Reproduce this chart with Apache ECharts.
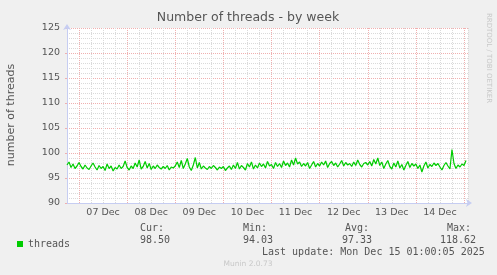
<!DOCTYPE html>
<html>
<head>
<meta charset="utf-8">
<script src="https://cdn.jsdelivr.net/npm/echarts@6/dist/echarts.min.js"></script>
<style>
html,body{margin:0;padding:0;background:#f0f0f0;}
#chart{width:497px;height:275px;}
</style>
</head>
<body>
<div id="chart"></div>
<script>
// ---- data ----
var chartTitle = 'Number of threads - by week';
var yAxisTitle = 'number of threads';
var seriesName = 'threads';
var startHour = -6;           // hours relative to 07 Dec 00:00
var endHour = 194;
var dayLabels = ['07 Dec', '08 Dec', '09 Dec', '10 Dec', '11 Dec', '12 Dec', '13 Dec', '14 Dec'];
var yTicks = [90, 95, 100, 105, 110, 115, 120, 125];
// hourly values from 06 Dec 18:00 to 15 Dec 01:00
var threads = [
  97.6, 98.2, 97.1, 97.8, 96.9, 97.4,
  98.1, 97.3, 96.8, 97.6, 97.0, 96.7, 97.4, 98.0, 97.2, 96.6, 97.5, 96.9, 97.3, 96.5, 97.8, 96.9, 97.4, 96.4, 97.1, 96.8, 97.6, 96.9, 97.3, 98.4,
  97.1, 96.6, 97.4, 96.9, 98.0, 97.2, 98.6, 96.8, 97.3, 98.3, 97.0, 97.9, 96.7, 97.4, 96.9, 97.6, 97.1, 96.8, 97.3, 96.9, 97.5, 96.6, 97.2, 97.0,
  97.4, 98.2, 97.1, 98.5, 96.9, 97.8, 98.9, 97.2, 96.5, 97.6, 99.1, 97.0, 98.1, 96.8, 97.4, 97.0, 96.7, 97.3, 96.9, 97.5, 97.1, 96.6, 97.2, 96.9,
  97.3, 96.5, 97.0, 97.4, 96.7, 97.6, 96.9, 98.1, 96.8, 97.5, 97.1, 96.6, 97.9, 97.2, 98.2, 96.8, 97.6, 97.0, 98.0, 97.3, 97.8, 97.0, 98.3, 97.4,
  97.7, 96.9, 98.1, 97.3, 97.9, 97.1, 98.4, 97.5, 98.0, 97.2, 98.6, 97.6, 99.0, 97.8, 98.2, 97.3, 97.9, 97.4, 98.1, 96.9, 97.6, 98.3, 97.2, 97.9,
  97.4, 98.2, 97.6, 98.4, 97.1, 97.9, 98.3, 97.5, 98.0, 97.2, 97.8, 98.5, 97.4, 98.1, 97.6, 97.9, 97.3, 98.2, 97.5, 98.6, 97.7, 97.2, 97.9, 98.1,
  97.6, 98.3, 97.4, 98.7, 97.8, 99.0, 97.5, 98.2, 96.9, 97.8, 98.5, 97.3, 96.8, 98.0, 97.2, 98.4, 97.0, 97.7, 96.6, 97.5, 98.3, 97.1, 97.9, 97.4,
  97.8, 96.9, 97.6, 96.2, 97.4, 98.2, 97.0, 97.7, 97.3, 98.0, 97.5, 97.9, 97.2, 96.6, 97.5, 98.1, 97.4, 96.8, 100.7, 97.9, 96.9, 97.6, 97.2, 97.8,
  97.5, 98.5
];
var statLabels = ['Cur:', 'Min:', 'Avg:', 'Max:'];
var statValues = ['98.50', '94.03', '97.33', '118.62'];
var lastUpdate = 'Last update: Mon Dec 15 01:00:05 2025';
var footer = 'Munin 2.0.73';
var sideText = 'RRDTOOL / TOBI OETIKER';

// ---- build ----
var seriesData = threads.map(function (v, i) { return [startHour + i, v]; });
var mono = 'DejaVu Sans Mono';
var sans = 'DejaVu Sans';
var txt = '#555';
var axisCol = '#c6cdf2';
var majorCol = '#f0b0b0';
var minorCol = '#dadada';

var statX = [140, 243, 345, 447];
var valX = [140, 243, 342, 440];
var graphics = [
  {type: 'text', x: 248, y: 18, style: {text: chartTitle, fill: txt, font: '12.5px ' + sans, align: 'center', verticalAlign: 'middle'}},
  {type: 'text', x: 11, y: 115, rotation: Math.PI / 2, style: {text: yAxisTitle, fill: txt, font: '11px ' + sans, align: 'center', verticalAlign: 'middle'}},
  {type: 'text', x: 489, y: 58, rotation: -Math.PI / 2, style: {text: sideText, fill: '#c8c8c8', font: '7px ' + sans, align: 'center', verticalAlign: 'middle'}},
  {type: 'text', x: 262, y: 252, style: {text: lastUpdate, fill: txt, font: '10px ' + mono, align: 'left', verticalAlign: 'middle'}},
  {type: 'text', x: 248, y: 264, style: {text: footer, fill: '#c8c8c8', font: '7.5px ' + sans, align: 'center', verticalAlign: 'middle'}}
];
statLabels.forEach(function (s, i) {
  graphics.push({type: 'text', x: statX[i], y: 228, style: {text: s, fill: txt, font: '10px ' + mono, align: 'left', verticalAlign: 'middle'}});
  graphics.push({type: 'text', x: valX[i], y: 240, style: {text: statValues[i], fill: txt, font: '10px ' + mono, align: 'left', verticalAlign: 'middle'}});
});

var chart = echarts.init(document.getElementById('chart'), null, {renderer: 'canvas'});
chart.setOption({
  backgroundColor: '#f0f0f0',
  animation: false,
  grid: {left: 67, top: 28, right: 29, bottom: 72, show: true, backgroundColor: '#ffffff', borderWidth: 0},
  legend: {
    data: [seriesName], left: 12, top: 234, icon: 'rect', itemWidth: 6, itemHeight: 6,
    textStyle: {fontFamily: mono, fontSize: 10, color: txt}
  },
  xAxis: {
    type: 'value', min: startHour, max: endHour, interval: 6,
    axisLine: {show: true, onZero: false, lineStyle: {color: axisCol, width: 1}, symbol: ['none', 'arrow'], symbolSize: [6, 6], symbolOffset: [0, 4]},
    axisTick: {show: false},
    axisLabel: {
      color: txt, fontFamily: sans, fontSize: 9.5, margin: 5, showMinLabel: true, showMaxLabel: true,
      formatter: function (v) {
        var m = ((v % 24) + 24) % 24;
        if (m !== 12) return '';
        var idx = (v - 12) / 24;
        return dayLabels[idx] || '';
      }
    },
    splitLine: {show: true, lineStyle: {color: [minorCol, majorCol, minorCol, minorCol], type: [1, 1], width: 1}}
  },
  yAxis: {
    type: 'value', min: yTicks[0], max: yTicks[yTicks.length - 1], interval: 5,
    axisLine: {show: true, onZero: false, lineStyle: {color: axisCol, width: 1}, symbol: ['none', 'arrow'], symbolSize: [6, 6], symbolOffset: [0, 4]},
    axisTick: {show: true, length: 2, lineStyle: {color: majorCol}},
    axisLabel: {color: txt, fontFamily: sans, fontSize: 9.5, margin: 7},
    splitLine: {show: true, lineStyle: {color: majorCol, type: [1, 1], width: 1}},
    minorTick: {show: false, splitNumber: 5},
    minorSplitLine: {show: true, lineStyle: {color: minorCol, type: [1, 1], width: 1}}
  },
  series: [{
    name: seriesName, type: 'line', data: seriesData, showSymbol: false,
    lineStyle: {color: '#00cc00', width: 1.2}, itemStyle: {color: '#00cc00'}, z: 5
  }],
  graphic: graphics
});
</script>
</body>
</html>
